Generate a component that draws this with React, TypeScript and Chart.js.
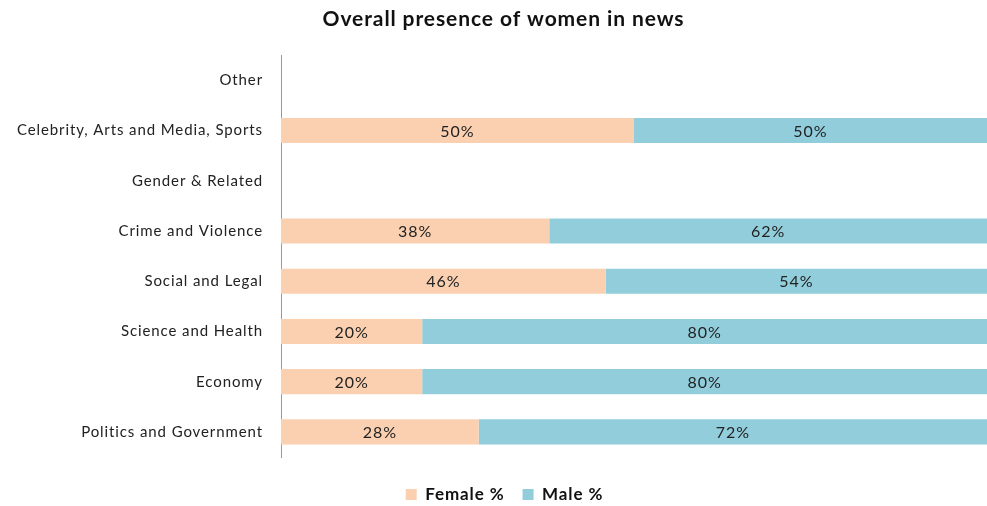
import React, { useEffect, useRef } from "react";
import { Chart, registerables } from "chart.js";

Chart.register(...registerables);

const categories = [
  "Other",
  "Celebrity, Arts and Media, Sports",
  "Gender & Related",
  "Crime and Violence",
  "Social and Legal",
  "Science and Health",
  "Economy",
  "Politics and Government",
];
const femaleValues: (number | null)[] = [null, 50, null, 38, 46, 20, 20, 28];
const maleValues: (number | null)[] = [null, 50, null, 62, 54, 80, 80, 72];
const seriesNames = ["Female %", "Male %"];
const titleText = "Overall presence of women in news";

const FONT = "Lato, 'Open Sans', sans-serif";

const spacingPlugin = {
  id: "spacing",
  beforeUpdate(chart: any) {
    chart.ctx.letterSpacing = "0.9px";
  },
  beforeDraw(chart: any) {
    chart.ctx.letterSpacing = "0.9px";
  },
  afterLayout(chart: any) {
    const t = chart.titleBlock;
    if (t) {
      t.left += 10;
      t.right += 10;
    }
    const l = chart.legend;
    if (l) {
      l.left += 11;
      l.right += 11;
    }
  },
};

const labelPlugin = {
  id: "segLabels",
  afterDatasetsDraw(chart: any) {
    const ctx = chart.ctx;
    ctx.save();
    ctx.letterSpacing = "1px";
    ctx.font = `16px ${FONT}`;
    ctx.fillStyle = "#222";
    ctx.textAlign = "center";
    ctx.textBaseline = "middle";
    chart.data.datasets.forEach((ds: any, di: number) => {
      const meta = chart.getDatasetMeta(di);
      meta.data.forEach((bar: any, i: number) => {
        const v = ds.data[i];
        if (v == null) return;
        const x = (bar.x + bar.base) / 2;
        ctx.fillText(`${v}%`, x, bar.y + 1);
      });
    });
    ctx.restore();
  },
};

export default function App() {
  const ref = useRef<HTMLCanvasElement | null>(null);
  useEffect(() => {
    document.body.style.margin = "0";
    const chart = new Chart(ref.current!, {
      type: "bar",
      data: {
        labels: categories,
        datasets: [
          {
            label: seriesNames[0],
            data: femaleValues,
            backgroundColor: "#FAD0B0",
            barPercentage: 0.5,
            categoryPercentage: 1,
          },
          {
            label: seriesNames[1],
            data: maleValues,
            backgroundColor: "#92CDDC",
            barPercentage: 0.5,
            categoryPercentage: 1,
          },
        ],
      },
      options: {
        indexAxis: "y",
        animation: false,
        responsive: false,
        layout: { padding: { left: 0, right: 0, top: 0, bottom: -7 } },
        scales: {
          x: {
            stacked: true,
            min: 0,
            max: 100,
            display: true,
            position: "bottom",
            grid: { display: false },
            border: { display: false },
            ticks: { display: false },
            afterFit(scale: any) {
              scale.height = 11;
            },
          },
          y: {
            stacked: true,
            grid: { display: false },
            border: { display: true, color: "#999", width: 1 },
            ticks: {
              color: "#222",
              padding: 10,
              font: { family: FONT, size: 15 },
            },
            afterFit(scale: any) {
              scale.width = 281;
            },
          },
        },
        plugins: {
          title: {
            display: true,
            text: titleText,
            color: "#111",
            font: { family: FONT, size: 21, weight: "bold" },
            padding: { top: 7, bottom: 23 },
          },
          legend: {
            position: "bottom",
            labels: {
              boxWidth: 11,
              boxHeight: 11,
              color: "#111",
              padding: 18,
              font: { family: FONT, size: 17, weight: "bold" },
            },
          },
          tooltip: { enabled: false },
        },
      },
      plugins: [spacingPlugin, labelPlugin],
    });
    return () => chart.destroy();
  }, []);
  return (
    <div style={{ position: "absolute", left: 0, top: 0, width: 987, height: 506, background: "#fff" }}>
      <canvas ref={ref} width={987} height={506} style={{ width: 987, height: 506 }} />
    </div>
  );
}
